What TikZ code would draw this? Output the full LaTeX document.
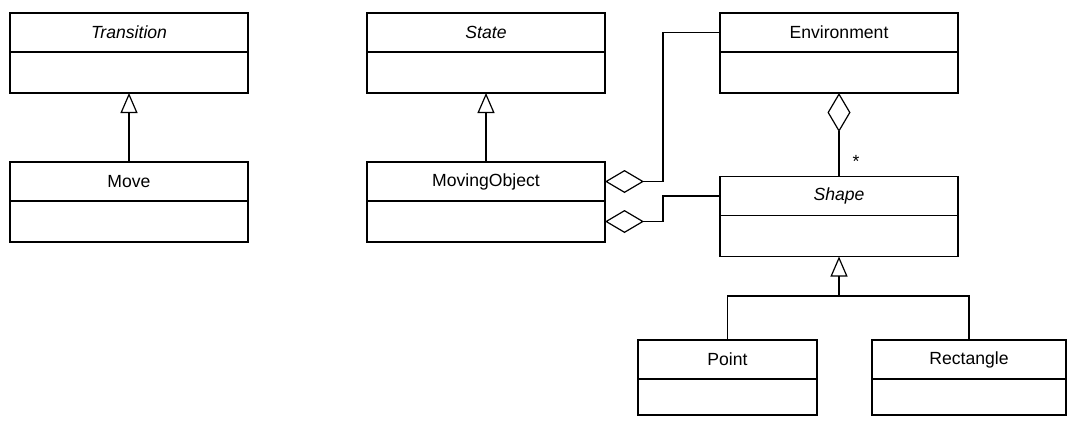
\documentclass[tikz,border=0pt]{standalone}
\usepackage{fontspec}
\setmainfont{Liberation Sans}
\usetikzlibrary{positioning,arrows.meta}

\tikzset{
  head/.style={draw,line width=1.2pt,minimum width=238pt,minimum height=39pt,inner sep=0pt,outer sep=0pt},
  body/.style={draw,line width=1.2pt,minimum width=238pt,minimum height=41pt,inner sep=0pt,outer sep=0pt},
  inherit/.style={line width=1.2pt,-{Triangle[open,length=20pt,width=17pt]}},
  agg/.style={line width=1.2pt,-{Diamond[open,length=39pt,width=23pt]}}
}

\begin{document}
\begin{tikzpicture}[x=1pt,y=-1pt,font=\fontsize{17.6}{20}\selectfont]
      \useasboundingbox (0,0) rectangle (1082,429);

      % classes
      \node [head] (trans) at (129,32.5) {\textit{Transition}};
      \node [body,below=0pt of trans] (trans b) {};
      \node [head] (move) at (129,181.5) {Move};
      \node [body,below=0pt of move] (move b) {};
      \node [head] (state) at (486,32.5) {\textit{State}};
      \node [body,below=0pt of state] (state b) {};
      \node [head] (mo) at (486,181.5) {MovingObject};
      \node [body,below=0pt of mo] (mo b) {};
      \node [head] (env) at (839,32.5) {Environment};
      \node [body,below=0pt of env] (env b) {};
      \node [head] (shape) at (839,196) {\textit{Shape}};
      \node [body,below=0pt of shape] (shape b) {};
      \node [head,minimum width=179pt] (point) at (727.5,359.5) {Point};
      \node [body,minimum width=179pt,minimum height=36pt,below=0pt of point] (point b) {};
      \node [head,minimum width=194pt] (rect) at (969,359.5) {Rectangle};
      \node [body,minimum width=194pt,minimum height=36pt,below=0pt of rect] (rect b) {};

      % generalisation
      \foreach \from/\to in {move/trans b,mo/state b}
        \draw [inherit] (\from.north) -- (\to.south);
      \coordinate (fork) at (839,296);
      \draw [inherit] (point.north) |- (fork) -- (shape b.south);
      \draw [line width=1.2pt] (rect.north) |- (fork);

      % aggregation
      \draw [agg] (env.west) -- ++(-57,0) |- (mo.east);
      \draw [agg] (shape.west) -- ++(-57,0) |- (mo b.east);
      \draw [agg] (shape.north) -- node [right=13pt,pos=0.18,inner sep=0pt] (mult) {*} (env b.south);
    \end{tikzpicture}
\end{document}
